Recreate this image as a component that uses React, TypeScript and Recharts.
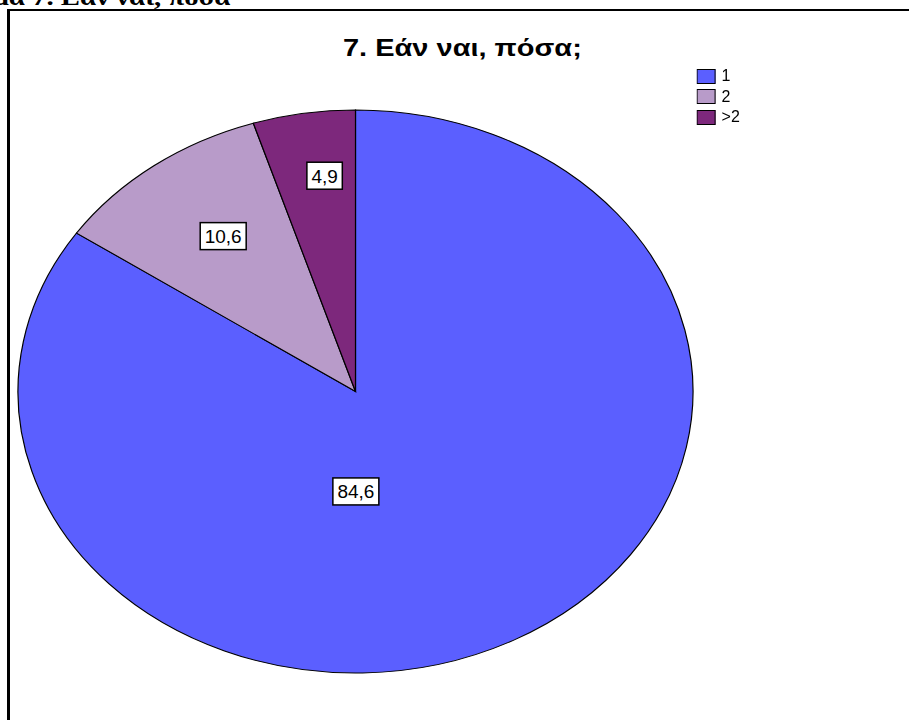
import { PieChart, Pie, Cell, Legend } from "recharts";

const categories = ["1", "2", ">2"];
const percents = [84.6, 10.6, 4.9];
const COLORS = ["#5B5FFF", "#B89BC9", "#7D287C"];

// ellipse squash: SPSS draws the pie wider than tall
const SX = 337.5 / 281.5;
const SANS = '"Liberation Sans", Arial, sans-serif';

// label placement (radius fraction, angle nudge)
const LABEL_POS = [
  { r: 0.355, shift: -27.7 },
  { r: 0.677, shift: -1.3 },
  { r: 0.772, shift: -2 },
];

const data = categories.map((name, i) => ({ name, value: percents[i] }));

const textWidth = (s: string, size: number) =>
  s.split("").reduce((w, c) => w + (c === "," ? 0.278 : 0.556) * size, 0);

function renderLabel(props: any) {
  const { cx, cy, midAngle, outerRadius, index, value } = props;
  const pos = LABEL_POS[index];
  const a = ((midAngle + pos.shift) * Math.PI) / 180;
  const r = outerRadius * pos.r;
  const x = cx + r * Math.cos(-a);
  const y = cy + r * Math.sin(-a);
  const txt = String(value).replace(".", ",");
  const w = textWidth(txt, 19) + 9;
  return (
    <g transform={`translate(${x},${y}) scale(${1 / SX},1)`}>
      <rect x={-w / 2} y={-13.5} width={w} height={27} fill="#fff" stroke="#000" strokeWidth={1.5} />
      <text x={0} y={7} textAnchor="middle" fontSize={19} fontFamily={SANS} fill="#000">
        {txt}
      </text>
    </g>
  );
}

function LegendBox({ payload }: any) {
  return (
    <div style={{ transform: `scaleX(${1 / SX})`, transformOrigin: "0 0" }}>
      {(payload || []).map((p: any, i: number) => (
        <div key={i} style={{ display: "flex", alignItems: "center", height: 20.5 }}>
          <span
            style={{
              display: "inline-block",
              width: 19,
              height: 15,
              boxSizing: "border-box",
              border: "1.5px solid #000",
              background: COLORS[i],
            }}
          />
          <span style={{ marginLeft: 6, fontFamily: SANS, fontSize: 16, color: "#000" }}>{p.value}</span>
        </div>
      ))}
    </div>
  );
}

export default function App() {
  return (
    <div
      style={{
        position: "absolute",
        left: 0,
        top: 0,
        width: 909,
        height: 720,
        overflow: "hidden",
        background: "#fff",
      }}
    >
      <div
        style={{
          position: "absolute",
          right: 679,
          top: -15,
          whiteSpace: "nowrap",
          fontFamily: '"Liberation Serif", "Times New Roman", serif',
          fontWeight: "bold",
          fontSize: 24,
          lineHeight: "24px",
          transform: "scaleX(1.2)",
          transformOrigin: "100% 0",
        }}
      >
        Γράφημα 7. Εάν ναι, πόσα
      </div>
      <div
        style={{
          position: "absolute",
          left: 7,
          top: 9,
          width: 950,
          height: 800,
          borderTop: "2px solid #000",
          borderLeft: "3px solid #000",
        }}
      />
      <div
        style={{
          position: "absolute",
          left: 343,
          top: 35,
          fontFamily: SANS,
          fontWeight: "bold",
          fontSize: 23,
          lineHeight: "26px",
          whiteSpace: "nowrap",
          transform: "scaleX(1.26)",
          transformOrigin: "0 0",
        }}
      >
        7. Εάν ναι, πόσα;
      </div>
      <div
        style={{
          position: "absolute",
          left: 0,
          top: 0,
          transform: `scaleX(${SX})`,
          transformOrigin: "0 0",
        }}
      >
        <PieChart width={909 / SX} height={720} margin={{ top: 0, right: 0, bottom: 0, left: 0 }}>
          <Pie
            data={data}
            dataKey="value"
            nameKey="name"
            cx={355.5 / SX}
            cy={391.5}
            outerRadius={281.5}
            startAngle={90}
            endAngle={-270}
            stroke="#000"
            strokeWidth={1}
            label={renderLabel}
            labelLine={false}
            isAnimationActive={false}
          >
            {data.map((entry, i) => (
              <Cell key={`cell-${entry.name}`} fill={COLORS[i]} />
            ))}
          </Pie>
          <Legend
            layout="vertical"
            verticalAlign="top"
            align="right"
            content={<LegendBox />}
            wrapperStyle={{ left: 697 / SX, top: 66, width: "auto", right: "auto" }}
          />
        </PieChart>
      </div>
    </div>
  );
}
